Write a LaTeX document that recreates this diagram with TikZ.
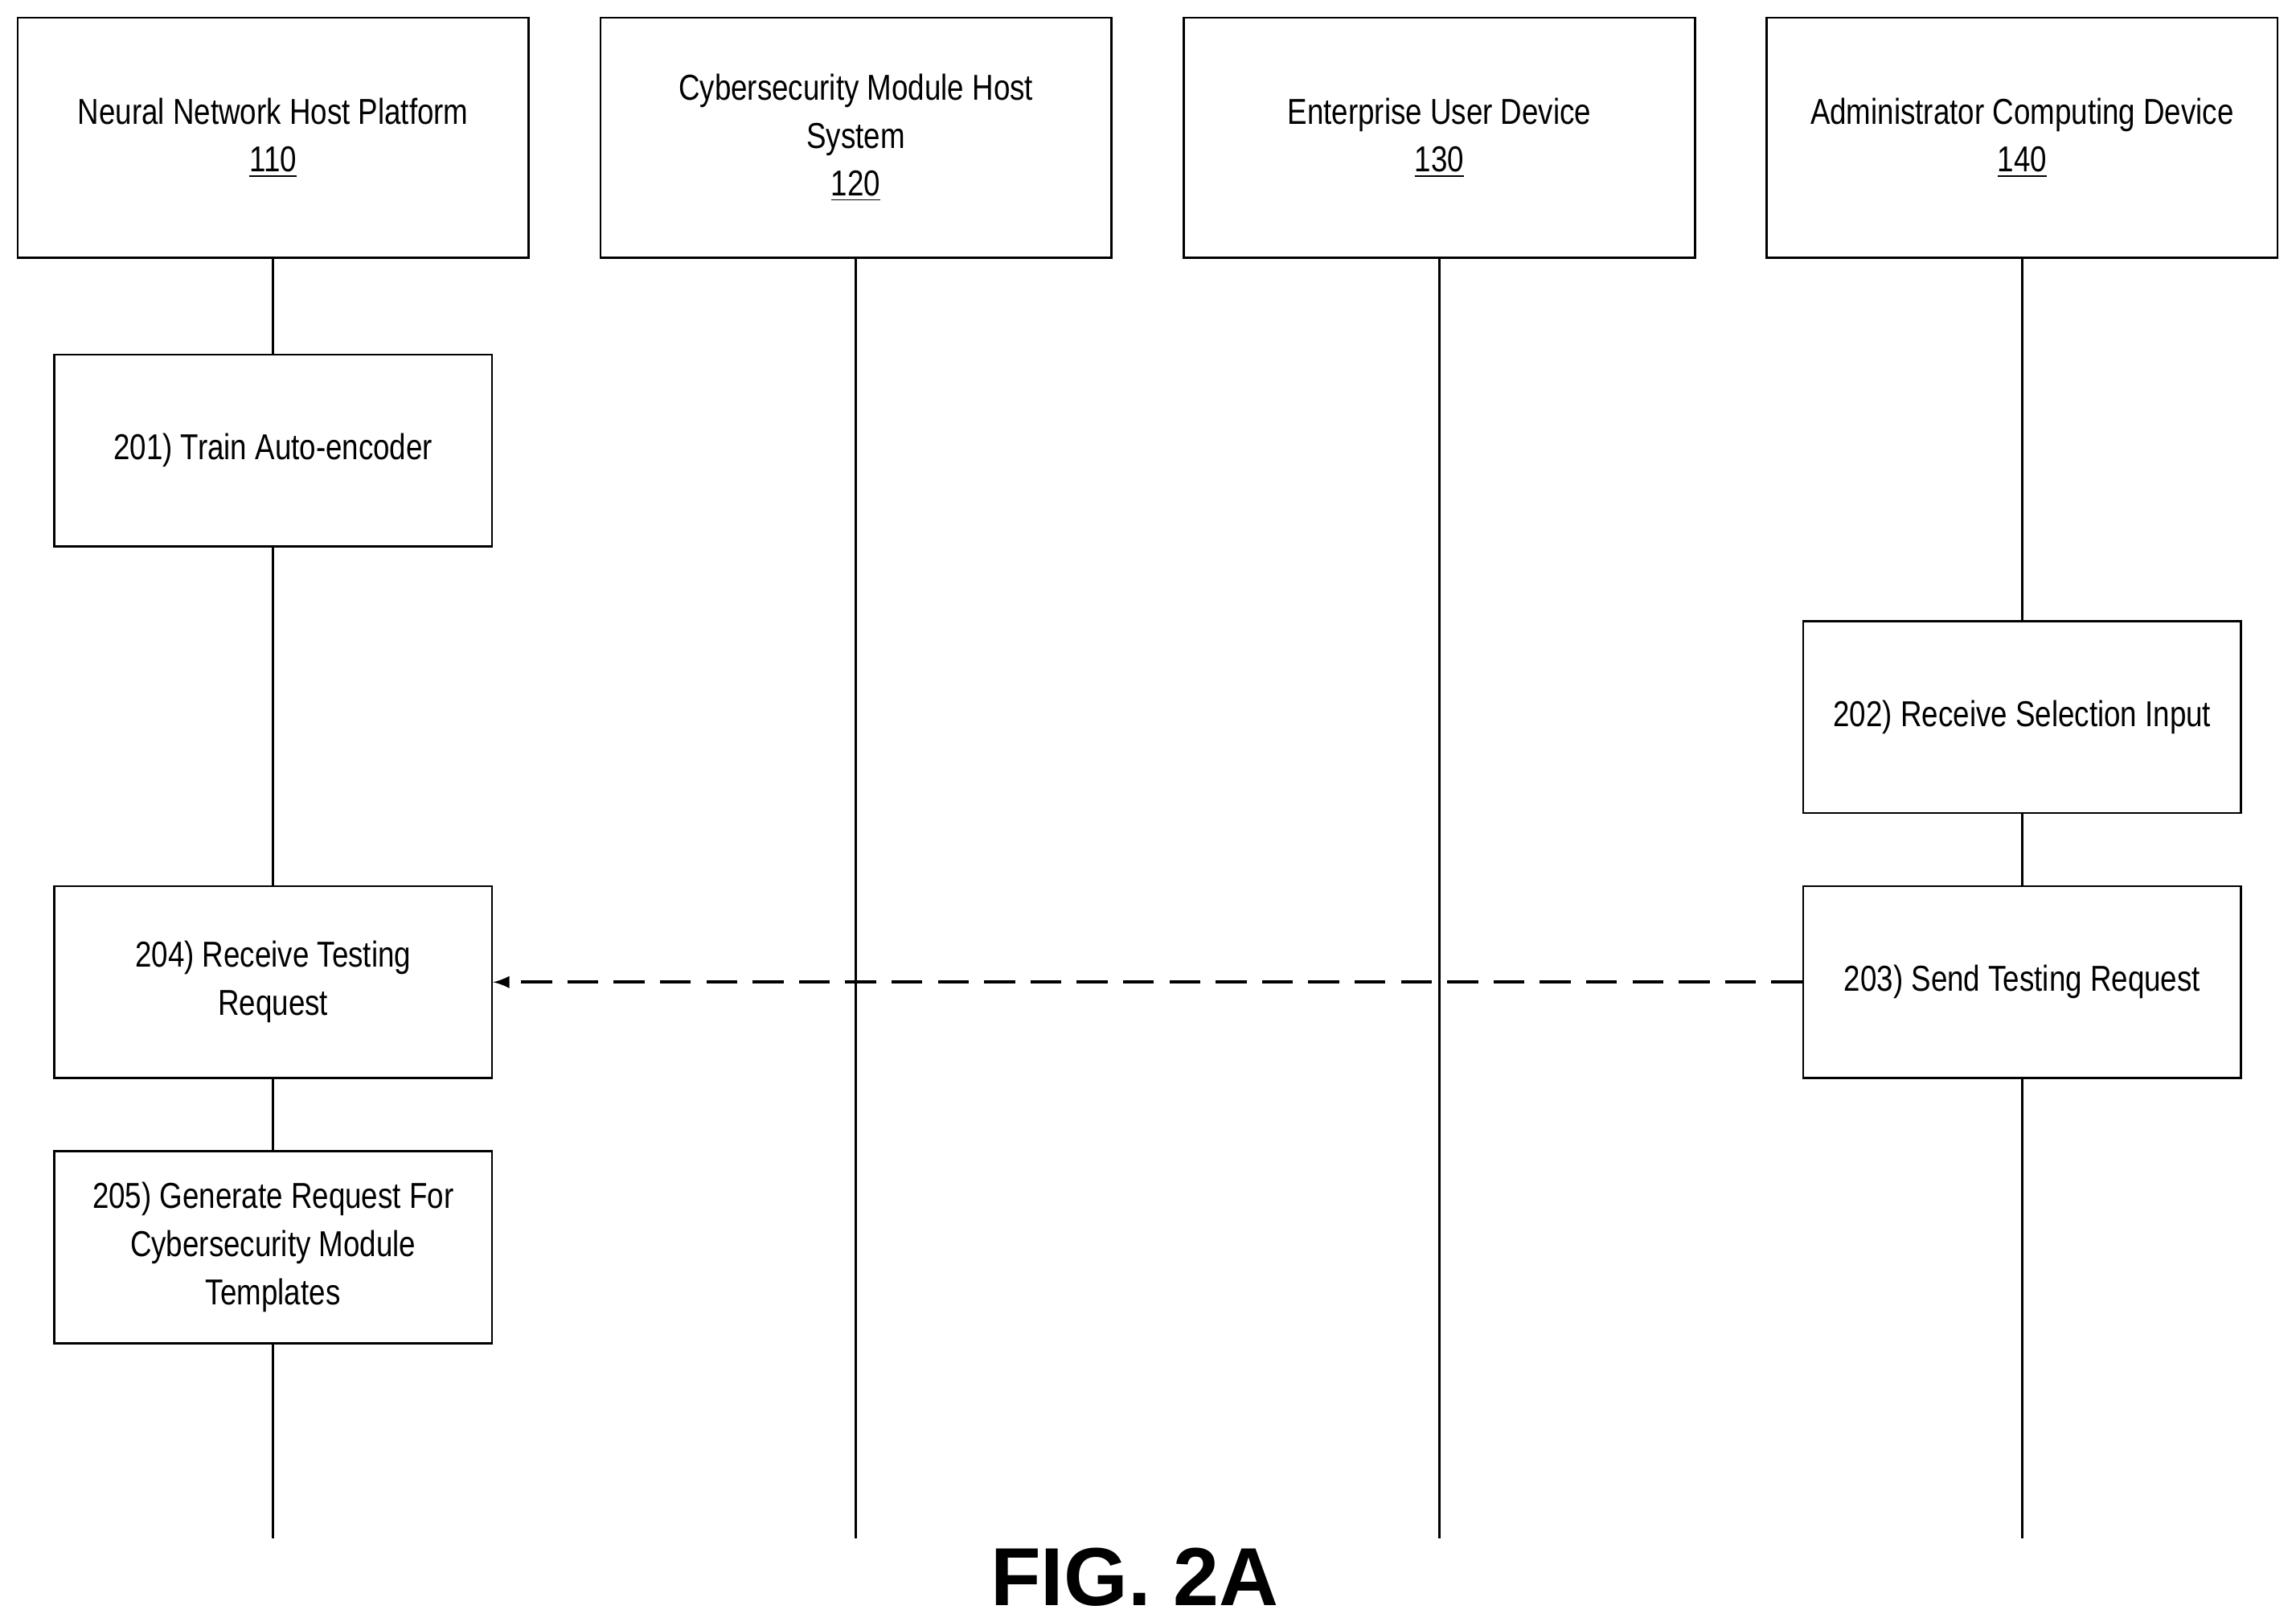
\documentclass[tikz,border=0pt]{standalone}
\usepackage{fontspec}
\setmainfont{Liberation Sans}[FakeStretch=0.82]
\newfontfamily\figfont{Liberation Sans}
\usetikzlibrary{backgrounds}
\tikzset{
  head/.style={draw, fill=white, minimum width=6.98cm, minimum height=3.28cm, align=center, font=\fontsize{14}{18.7}\selectfont, line width=0.8pt},
  stepbox/.style={draw, fill=white, minimum width=5.98cm, minimum height=2.62cm, align=center, font=\fontsize{14}{18.7}\selectfont, line width=0.8pt},
  life/.style={line width=0.8pt},
}
\begin{document}
\begin{tikzpicture}[x=0.02cm, y=-0.02cm]
        \useasboundingbox (0,0) rectangle (1568,1107);

        \node[head] (NN) at (186.5,94) {Neural Network Host Platform\\\underline{110}};
        \node[head] (CM) at (584.5,94) {Cybersecurity Module Host\\System\\\underline{120}};
        \node[head] (EU) at (983,94) {Enterprise User Device\\\underline{130}};
        \node[head] (AD) at (1381,94) {Administrator Computing Device\\\underline{140}};

        \node[stepbox] (S201) at (186.5,307.5) {201) Train Auto-encoder};
        \node[stepbox] (S202) at (1381,489.5) {202) Receive Selection Input};
        \node[stepbox] (S203) at (1381,670.5) {203) Send Testing Request};
        \node[stepbox] (S204) at (186.5,670.5) {204) Receive Testing\\Request};
        \node[stepbox] (S205) at (186.5,851.5) {205) Generate Request For\\Cybersecurity Module\\Templates};

        \coordinate (E1) at (186.5,1050);
        \coordinate (E2) at (584.5,1050);
        \coordinate (E3) at (983,1050);
        \coordinate (E4) at (1381,1050);

        \begin{scope}[on background layer]
        \draw[life] (NN) to (E1);
        \draw[life] (CM) to (E2);
        \draw[life] (EU) to (E3);
        \draw[life] (AD) to (E4);
        \end{scope}

        \draw[-latex, line width=1.2pt, dash pattern=on 12pt off 6pt] (S203) to (S204);

        \node[font=\figfont\bfseries\fontsize{32}{36}\selectfont] (FIG) at (775,1077) {FIG. 2A};
\end{tikzpicture}
\end{document}
